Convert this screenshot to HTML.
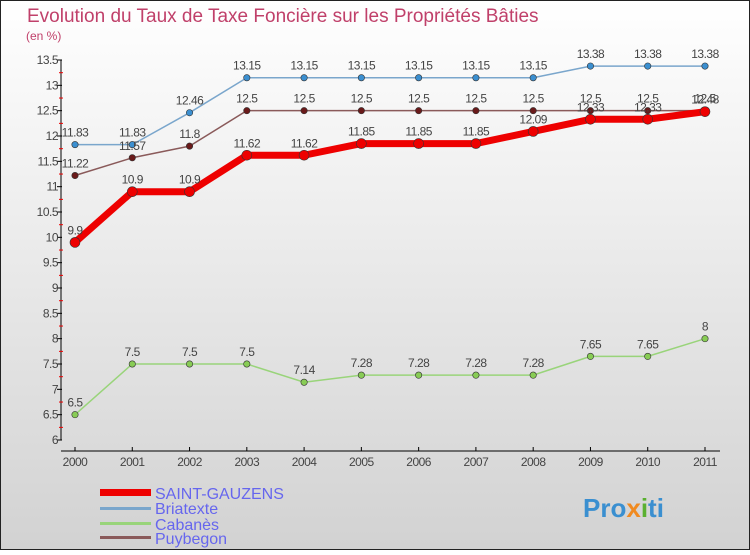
<!DOCTYPE html>
<html><head><meta charset="utf-8"><style>
body{margin:0}
svg text{font-family:"Liberation Sans",sans-serif}
</style></head><body>
<svg id="c" width="750" height="550" xmlns="http://www.w3.org/2000/svg">
<defs><linearGradient id="bg" x1="0" y1="0" x2="0" y2="1"><stop offset="0" stop-color="#ffffff"/><stop offset="1" stop-color="#d2d2d2"/></linearGradient></defs>
<rect x="0.5" y="0.5" width="749" height="549" fill="url(#bg)" stroke="#222"/>
<text x="27" y="22" font-size="19" fill="#c0406a">Evolution du Taux de Taxe Foncière sur les Propriétés Bâties</text>
<text x="26" y="40" font-size="12" fill="#c0406a">(en %)</text>
<g id="axes"></g>
<g id="series"></g>
<g>
<rect x="100" y="489" width="51" height="7" fill="#e00"/>
<text x="155" y="499" font-size="16" fill="#6666ee">SAINT-GAUZENS</text>
<rect x="100" y="507" width="51" height="3" fill="#7aa6cc"/>
<text x="155" y="514" font-size="16" fill="#6666ee">Briatexte</text>
<rect x="100" y="522" width="51" height="3" fill="#99d47a"/>
<text x="155" y="530" font-size="16" fill="#6666ee">Cabanès</text>
<rect x="100" y="536" width="51" height="3" fill="#8a5a5a"/>
<text x="155" y="544" font-size="16" fill="#6666ee">Puybegon</text>
</g>
<g>
<text x="583" y="517" font-size="26" font-weight="bold" fill="#3a8fd0">Pro<tspan fill="#f08a20">x</tspan><tspan fill="#5ab030">i</tspan>ti</text>
</g>
</svg>
<script>
const years=[2000,2001,2002,2003,2004,2005,2006,2007,2008,2009,2010,2011];
const yTicks=[6,6.5,7,7.5,8,8.5,9,9.5,10,10.5,11,11.5,12,12.5,13,13.5];
const saint=[9.9,10.9,10.9,11.62,11.62,11.85,11.85,11.85,12.09,12.33,12.33,12.48];
const briatexte=[11.83,11.83,12.46,13.15,13.15,13.15,13.15,13.15,13.15,13.38,13.38,13.38];
const cabanes=[6.5,7.5,7.5,7.5,7.14,7.28,7.28,7.28,7.28,7.65,7.65,8];
const puybegon=[11.22,11.57,11.8,12.5,12.5,12.5,12.5,12.5,12.5,12.5,12.5,12.5];
const NS='http://www.w3.org/2000/svg';
const xs=i=>75+i*(630/11);
const ys=v=>60+(13.5-v)*(380/7.5);
function mk(t,a,p){const e=document.createElementNS(NS,t);for(const k in a)e.setAttribute(k,a[k]);p.appendChild(e);return e;}
const ax=document.getElementById('axes');
const yl=mk('line',{x1:61,y1:60,x2:61,y2:440,stroke:'#000'},ax);


yTicks.forEach(v=>{
 const y=ys(v);
 mk('line',{x1:57,y1:y,x2:62,y2:y,stroke:'#000'},ax);
 mk('line',{x1:59,y1:y+12.7,x2:63,y2:y+12.7,stroke:v>6?'#e00':'none'},ax);
 const t=mk('text',{x:58,y:y+4,'font-size':12,'text-anchor':'end',fill:'#444','letter-spacing':'-0.5'},ax);
 t.textContent=String(v);
 
 
});
const xl=mk('line',{x1:61,y1:451,x2:720,y2:451,stroke:'#000'},ax);


years.forEach((yr,i)=>{
 mk('line',{x1:xs(i),y1:447,x2:xs(i),y2:451,stroke:'#000'},ax);
 const t=mk('text',{x:xs(i),y:466,'font-size':12,'text-anchor':'middle',fill:'#444','letter-spacing':'-0.5'},ax);
 t.textContent=String(yr);
 
 
});
const sg=document.getElementById('series');
function series(vals,color,w,r,dot,name){
 const g=mk('g',{},sg);
 
 
 const pl=mk('polyline',{points:vals.map((v,i)=>xs(i)+','+ys(v)).join(' '),fill:'none',stroke:color,'stroke-width':w,'stroke-linejoin':'round'},g);
 
 
 vals.forEach((v,i)=>{
  const c=mk('circle',{cx:xs(i),cy:ys(v),r:r,fill:dot,stroke:'#333','stroke-width':0.6},g);
  
  
  const t=mk('text',{x:xs(i),y:ys(v)-8,'font-size':12,'text-anchor':'middle',fill:'#444','letter-spacing':'-0.5'},g);
  t.textContent=String(v);
  
  
 });
}
series(cabanes,'#99d47a',1.5,3.2,'#88cc55','cabanes');
series(briatexte,'#7aa6cc',1.5,3.2,'#3b8fd0','briatexte');
series(puybegon,'#8a5a5a',1.5,3.2,'#6a1a1a','puybegon');
series(saint,'#ee0000',7,5,'#ee0000','saint-gauzens');
</script>
</body></html>
